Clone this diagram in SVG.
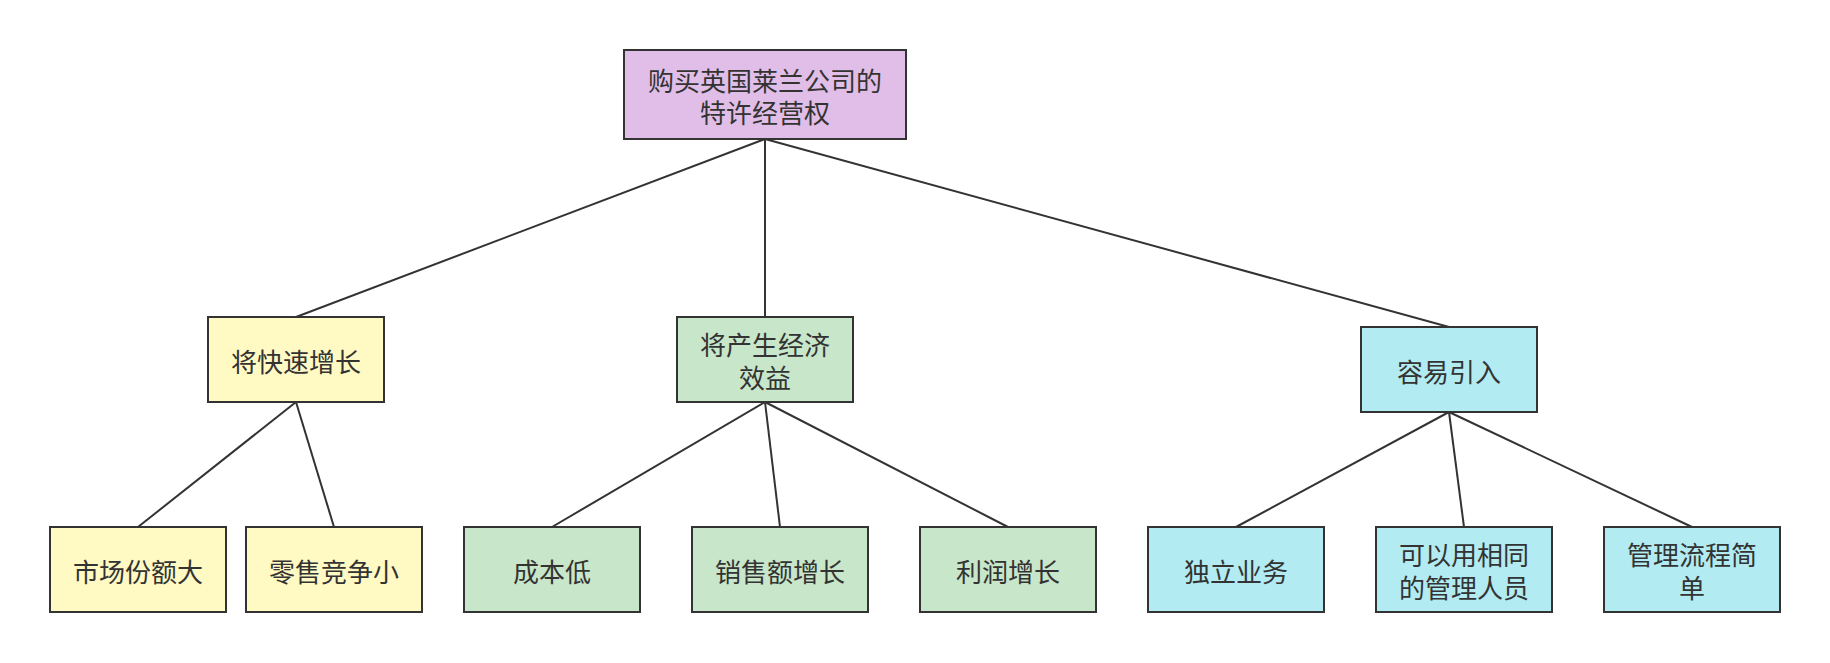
<svg xmlns="http://www.w3.org/2000/svg" width="1830" height="663" viewBox="0 0 1830 663">
<style>
.box{stroke:#333;stroke-width:2}
.root{fill:#E1BEE7}
.y{fill:#FFF9C4}
.g{fill:#C8E6C9}
.c{fill:#B2EBF2}
text{font-family:"Noto Sans CJK SC","Noto Sans",sans-serif;font-size:26px;fill:#333;text-anchor:middle;dominant-baseline:central}
.edge{stroke:#333;stroke-width:2;fill:none}
</style>
<rect width="1830" height="663" fill="#fff"/>
<g id="connectors">
<line class="edge" x1="765" y1="139" x2="296" y2="317"/>
<line class="edge" x1="765" y1="139" x2="765" y2="317"/>
<line class="edge" x1="765" y1="139" x2="1449" y2="327"/>
<line class="edge" x1="296" y1="402" x2="138" y2="527"/>
<line class="edge" x1="296" y1="402" x2="334" y2="527"/>
<line class="edge" x1="765" y1="402" x2="552" y2="527"/>
<line class="edge" x1="765" y1="402" x2="780" y2="527"/>
<line class="edge" x1="765" y1="402" x2="1008" y2="527"/>
<line class="edge" x1="1449" y1="412" x2="1236" y2="527"/>
<line class="edge" x1="1449" y1="412" x2="1464" y2="527"/>
<line class="edge" x1="1449" y1="412" x2="1692" y2="527"/>
</g>
<g id="root">
<rect class="box root" x="624" y="50" width="282" height="89"/>
<text x="765" y="79">购买英国莱兰公司的</text>
<text x="765" y="111">特许经营权</text>
</g>
<g id="n1">
<rect class="box y" x="208" y="317" width="176" height="85"/>
<text x="296" y="360">将快速增长</text>
</g>
<g id="n2">
<rect class="box g" x="677" y="317" width="176" height="85"/>
<text x="765" y="343">将产生经济</text>
<text x="765" y="376">效益</text>
</g>
<g id="n3">
<rect class="box c" x="1361" y="327" width="176" height="85"/>
<text x="1449" y="370">容易引入</text>
</g>
<g id="l1">
<rect class="box y" x="50" y="527" width="176" height="85"/>
<text x="138" y="570">市场份额大</text>
</g>
<g id="l2">
<rect class="box y" x="246" y="527" width="176" height="85"/>
<text x="334" y="570">零售竞争小</text>
</g>
<g id="l3">
<rect class="box g" x="464" y="527" width="176" height="85"/>
<text x="552" y="570">成本低</text>
</g>
<g id="l4">
<rect class="box g" x="692" y="527" width="176" height="85"/>
<text x="780" y="570">销售额增长</text>
</g>
<g id="l5">
<rect class="box g" x="920" y="527" width="176" height="85"/>
<text x="1008" y="570">利润增长</text>
</g>
<g id="l6">
<rect class="box c" x="1148" y="527" width="176" height="85"/>
<text x="1236" y="570">独立业务</text>
</g>
<g id="l7">
<rect class="box c" x="1376" y="527" width="176" height="85"/>
<text x="1464" y="553">可以用相同</text>
<text x="1464" y="586">的管理人员</text>
</g>
<g id="l8">
<rect class="box c" x="1604" y="527" width="176" height="85"/>
<text x="1692" y="553">管理流程简</text>
<text x="1692" y="586">单</text>
</g>
</svg>
